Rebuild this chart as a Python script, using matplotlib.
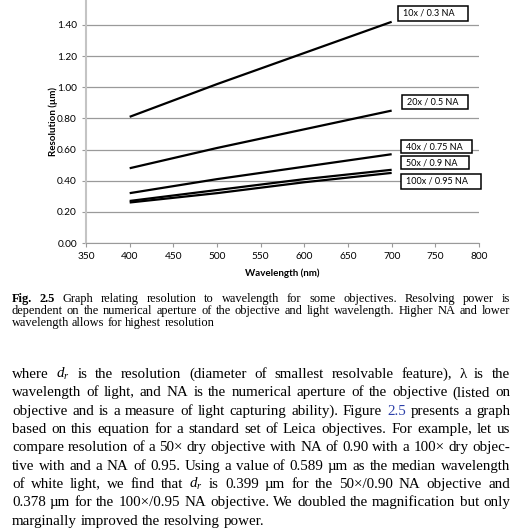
import matplotlib
matplotlib.use("Agg")
import matplotlib.pyplot as plt
from matplotlib.patches import Rectangle

# values
wavelength = [400, 500, 600, 700]
res_10x = [0.81, 1.02, 1.22, 1.42]
res_20x = [0.48, 0.61, 0.73, 0.85]
res_40x = [0.32, 0.41, 0.49, 0.57]
res_50x = [0.27, 0.34, 0.41, 0.47]
res_100x = [0.26, 0.32, 0.39, 0.45]
labels = ['10x / 0.3 NA', '20x / 0.5 NA', '40x / 0.75 NA', '50x / 0.9 NA', '100x / 0.95 NA']
x_ticks = [350, 400, 450, 500, 550, 600, 650, 700, 750, 800]
y_ticks = [0.0, 0.2, 0.4, 0.6, 0.8, 1.0, 1.2, 1.4]

# label boxes in page pixels: left, top, right, bottom
boxes = [(398, 6, 468, 21), (402, 95, 468, 109), (401, 140, 472, 153),
         (401, 156, 469, 169), (401, 174, 481, 189)]

W = H = 532
plt.rcParams['mathtext.fontset'] = 'custom'
plt.rcParams['mathtext.rm'] = 'Liberation Serif'
plt.rcParams['mathtext.it'] = 'Liberation Serif:italic'

fig = plt.figure(figsize=(W / 100, H / 100), dpi=100)
ax = fig.add_axes([86 / W, 1 - 243 / H, (479 - 86) / W, 243 / H])

series = [res_10x, res_20x, res_40x, res_50x, res_100x]
for vals in series:
    ax.plot(wavelength, vals, color='black', lw=1.6, solid_capstyle='butt')

for lab, (l, t, r, b) in zip(labels, boxes):
    fig.patches.append(Rectangle((l / W, 1 - b / H), (r - l) / W, (b - t) / H,
                                 transform=fig.transFigure, fc='white', ec='black',
                                 lw=1.1, zorder=5))
    fig.text((l + 5) / W, 1 - (t + b) / 2 / H, lab, fontsize=6.5, family='Lato',
             va='center', ha='left', zorder=6)

ax.set_xlim(350, 800)
ax.set_ylim(0, 1.56)
ax.set_xticks(x_ticks)
ax.set_yticks(y_ticks)
ax.set_yticklabels(['%.2f' % v for v in y_ticks])
ax.yaxis.grid(True, color='#9a9a9a', lw=0.9)
ax.set_axisbelow(True)
for s in ['top', 'right']:
    ax.spines[s].set_visible(False)
ax.spines['left'].set_color('#c4c4c4')
ax.spines['left'].set_linewidth(1.5)
ax.spines['bottom'].set_color('#9a9a9a')
ax.tick_params(colors='#9a9a9a', labelcolor='black', labelsize=7.3, length=3, width=0.8)
ax.tick_params(axis='y', pad=3.5)
for t in ax.get_xticklabels() + ax.get_yticklabels():
    t.set_family('Lato')
ax.set_xlabel('Wavelength (nm)', fontsize=7, fontweight='bold', family='Lato', labelpad=5)
ax.set_ylabel('Resolution (µm)', fontsize=7, fontweight='bold', family='Lato')
ax.yaxis.set_label_coords(-0.072, 0.5)

renderer = fig.canvas.get_renderer()


def words(s, **kw):
    return [(w, kw) for w in s.split()]


def put_line(items, y, size, x0=11.5, x1=510, justify=True):
    arts, widths = [], []
    for txt, kw in items:
        t = fig.text(0, 1 - y / H, txt, fontsize=size, va='baseline', ha='left',
                     family='Liberation Serif', **kw)
        widths.append(t.get_window_extent(renderer).width)
        arts.append(t)
    if justify:
        gap = (x1 - x0 - sum(widths)) / (len(items) - 1)
    else:
        gap = 0.25 * size * 100 / 72
    x = x0
    for t, w in zip(arts, widths):
        t.set_x(x / W)
        x += w + gap


bold = dict(fontweight='bold')
cap_size = 8.9
put_line([('Fig.', bold), ('2.5', bold)] +
         words('Graph relating resolution to wavelength for some objectives. Resolving power is'),
         302, cap_size)
put_line(words('dependent on the numerical aperture of the objective and light wavelength. Higher NA and lower'),
         314, cap_size)
put_line(words('wavelength allows for highest resolution'), 326, cap_size, justify=False)

blue = dict(color='#2b3fa8')
par_size = 10.8
par = [
    words('where $d_r$ is the resolution (diameter of smallest resolvable feature), λ is the'),
    words('wavelength of light, and NA is the numerical aperture of the objective (listed on'),
    words('objective and is a measure of light capturing ability). Figure') + [('2.5', blue)] +
    words('presents a graph'),
    words('based on this equation for a standard set of Leica objectives. For example, let us'),
    words('compare resolution of a 50× dry objective with NA of 0.90 with a 100× dry objec-'),
    words('tive with and a NA of 0.95. Using a value of 0.589 µm as the median wavelength'),
    words('of white light, we find that $d_r$ is 0.399 µm for the 50×/0.90 NA objective and'),
    words('0.378 µm for the 100×/0.95 NA objective. We doubled the magnification but only'),
    words('marginally improved the resolving power.'),
]
for i, line in enumerate(par):
    put_line(line, 378 + i * 18.35, par_size, x0=12, justify=(i < len(par) - 1))

fig.savefig('out.png', dpi=100)
